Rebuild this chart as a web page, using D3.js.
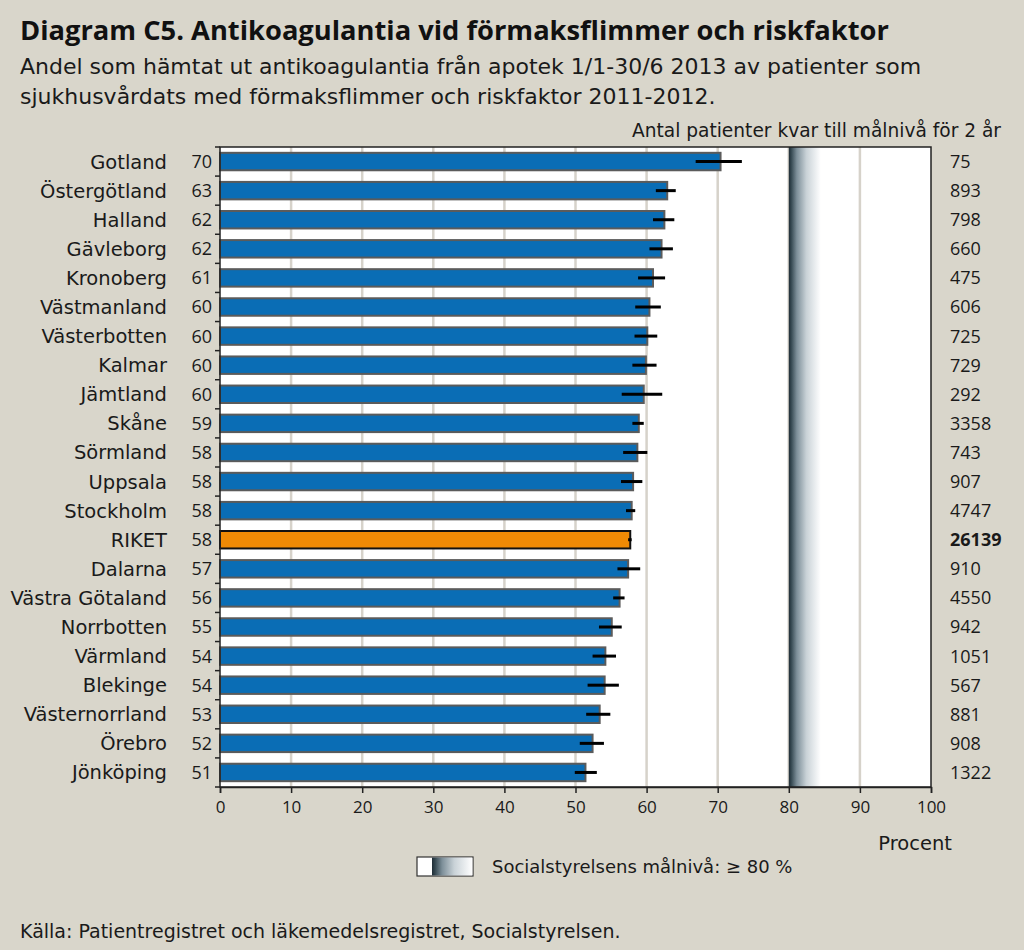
<!DOCTYPE html>
<html>
<head>
<meta charset="utf-8">
<script src="https://cdn.jsdelivr.net/npm/d3@7"></script>
<style>
  body { margin: 0; background: #d9d6cb; }
  svg { display: block; font-family: "DejaVu Sans", sans-serif; }
  .num { font-family: "Open Sans", sans-serif; }
</style>
</head>
<body>
<svg id="chart" width="1024" height="950"></svg>
<script>
// Diagram C5 – anticoagulants, atrial fibrillation + risk factor, by county

const regions = ["Gotland", "Östergötland", "Halland", "Gävleborg", "Kronoberg", "Västmanland",
    "Västerbotten", "Kalmar", "Jämtland", "Skåne", "Sörmland", "Uppsala", "Stockholm", "RIKET",
    "Dalarna", "Västra Götaland", "Norrbotten", "Värmland", "Blekinge", "Västernorrland",
    "Örebro", "Jönköping"];
const share = [70.4, 62.9, 62.5, 62.1, 60.9, 60.4, 60.1, 59.9, 59.6, 58.9, 58.7, 58.1, 57.9, 57.7,
    57.4, 56.2, 55.1, 54.2, 54.1, 53.4, 52.4, 51.4];
const shareLabel = [70, 63, 62, 62, 61, 60, 60, 60, 60, 59, 58, 58, 58, 58, 57, 56, 55, 54, 54, 53, 52, 51];
const ciLow  = [66.9, 61.3, 60.9, 60.4, 58.8, 58.4, 58.3, 58.0, 56.5, 58.0, 56.7, 56.4, 57.1, 57.4,
    55.9, 55.3, 53.3, 52.4, 51.7, 51.5, 50.6, 49.9];
const ciHigh = [73.4, 64.1, 63.9, 63.7, 62.6, 62.0, 61.5, 61.4, 62.2, 59.6, 60.1, 59.4, 58.4, 57.9,
    59.1, 56.9, 56.5, 55.7, 56.1, 54.9, 54.0, 53.0];
const remaining = [75, 893, 798, 660, 475, 606, 725, 729, 292, 3358, 743, 907, 4747, 26139,
    910, 4550, 942, 1051, 567, 881, 908, 1322];
const xTicks = [0, 10, 20, 30, 40, 50, 60, 70, 80, 90, 100];
const target = 80;
const targetFade = 84.5;

const svg = d3.select("#chart");
const pLeft = 220, pRight = 931, pTop = 147, pBottom = 787;

const x = d3.scaleLinear().domain([0, 100]).range([pLeft, pRight]);
const y = d3.scaleBand().domain(regions).range([pTop, pBottom]).paddingInner(0.4).paddingOuter(0.2);

// gradient for the target zone
const defs = svg.append("defs");
const grad = defs.append("linearGradient").attr("id", "goal").attr("x1", 0).attr("x2", 1);
[[0, "#1f2d36"], [0.07, "#33464f"], [0.25, "#7d8f99"], [0.55, "#c9d2d7"], [1, "#ffffff"]]
    .forEach(([o, c]) => grad.append("stop").attr("offset", o).attr("stop-color", c));

// titles
svg.append("text").attr("x", 20).attr("y", 40)
    .style("font-family", "Open Sans").style("font-size", "27.3px").style("font-weight", "bold")
    .attr("fill", "#111")
    .text("Diagram C5. Antikoagulantia vid förmaksflimmer och riskfaktor");
svg.append("text").attr("x", 20).attr("y", 74).style("font-size", "22px").attr("fill", "#1a1a1a")
    .text("Andel som hämtat ut antikoagulantia från apotek 1/1-30/6 2013 av patienter som");
svg.append("text").attr("x", 20).attr("y", 104).style("font-size", "22px").attr("fill", "#1a1a1a")
    .text("sjukhusvårdats med förmaksflimmer och riskfaktor 2011-2012.");
svg.append("text").attr("x", 1001).attr("y", 137).attr("text-anchor", "end")
    .style("font-size", "18.6px").attr("fill", "#1a1a1a")
    .text("Antal patienter kvar till målnivå för 2 år");

// plot background
svg.append("rect").attr("x", pLeft).attr("y", pTop).attr("width", pRight - pLeft).attr("height", pBottom - pTop)
    .attr("fill", "#fff");

// gridlines
svg.append("g").selectAll("line").data(xTicks.slice(1, -1)).join("line")
    .attr("x1", d => x(d)).attr("x2", d => x(d)).attr("y1", pTop).attr("y2", pBottom)
    .attr("stroke", "#d6d2ca").attr("stroke-width", 2.5);

// target zone
svg.append("rect").attr("x", x(target)).attr("y", pTop)
    .attr("width", x(targetFade) - x(target)).attr("height", pBottom - pTop)
    .attr("fill", "url(#goal)");

// bars
svg.append("g").selectAll("rect").data(regions).join("rect")
    .attr("x", x(0)).attr("y", d => y(d))
    .attr("width", (d, i) => x(share[i]) - x(0)).attr("height", y.bandwidth())
    .attr("fill", d => d === "RIKET" ? "#ef8a05" : "#0a6db5")
    .attr("stroke", d => d === "RIKET" ? "#111" : "#5b5b5b").attr("stroke-width", 2);

// error bars
svg.append("g").selectAll("line").data(regions).join("line")
    .attr("x1", (d, i) => x(ciLow[i])).attr("x2", (d, i) => x(ciHigh[i]))
    .attr("y1", d => y(d) + y.bandwidth() / 2).attr("y2", d => y(d) + y.bandwidth() / 2)
    .attr("stroke", "#000").attr("stroke-width", 3);

// frame
svg.append("rect").attr("x", pLeft).attr("y", pTop).attr("width", pRight - pLeft).attr("height", pBottom - pTop)
    .attr("fill", "none").attr("stroke", "#222").attr("stroke-width", 1.5);

// y axis ticks at category boundaries
const bounds = regions.map(r => y(r) - y.step() * y.paddingInner() / 2);
bounds.push(pBottom);
svg.append("g").selectAll("line").data(bounds).join("line")
    .attr("x1", pLeft - 5).attr("x2", pLeft).attr("y1", d => d).attr("y2", d => d)
    .attr("stroke", "#222").attr("stroke-width", 1.5);

// x axis
const xAxis = svg.append("g").attr("transform", `translate(0,${pBottom})`)
    .call(d3.axisBottom(x).tickValues(xTicks).tickSize(6).tickPadding(8));
xAxis.select(".domain").attr("stroke", "#222").attr("stroke-width", 1.5);
xAxis.selectAll(".tick line").attr("stroke", "#222").attr("stroke-width", 1.5);
xAxis.selectAll(".tick text").style("font-size", "17px").style("font-family", "Open Sans")
    .attr("fill", "#1a1a1a");
svg.append("text").attr("x", 952).attr("y", 850).attr("text-anchor", "end")
    .style("font-size", "19.5px").attr("fill", "#1a1a1a").text("Procent");

// row labels
const mid = d => y(d) + y.bandwidth() / 2;
svg.append("g").selectAll("text").data(regions).join("text")
    .attr("x", 167).attr("y", mid).attr("dy", "0.36em").attr("text-anchor", "end")
    .style("font-size", "19.5px").attr("fill", "#1a1a1a").text(d => d);
svg.append("g").selectAll("text").data(regions).join("text")
    .attr("class", "num")
    .attr("x", 212).attr("y", mid).attr("dy", "0.36em").attr("text-anchor", "end")
    .style("font-size", "18px").attr("fill", "#1a1a1a").text((d, i) => shareLabel[i]);
svg.append("g").selectAll("text").data(regions).join("text")
    .attr("class", "num")
    .attr("x", 950).attr("y", mid).attr("dy", "0.36em")
    .style("font-size", "18px").style("font-weight", d => d === "RIKET" ? "bold" : "normal")
    .attr("fill", "#1a1a1a").text((d, i) => remaining[i]);

// legend
const lg = svg.append("g").attr("transform", "translate(417,857)");
lg.append("rect").attr("width", 56).attr("height", 19).attr("fill", "#fff")
    .attr("stroke", "#333").attr("stroke-width", 1.2);
lg.append("rect").attr("x", 15).attr("y", 0.6).attr("width", 40.4).attr("height", 17.8)
    .attr("fill", "url(#goal)");
lg.append("text").attr("x", 75).attr("y", 16).style("font-size", "18px").attr("fill", "#1a1a1a")
    .text("Socialstyrelsens målnivå: ≥ 80 %");

// source
svg.append("text").attr("x", 20).attr("y", 938).style("font-size", "19px").attr("fill", "#1a1a1a")
    .text("Källa: Patientregistret och läkemedelsregistret, Socialstyrelsen.");
</script>
</body>
</html>
